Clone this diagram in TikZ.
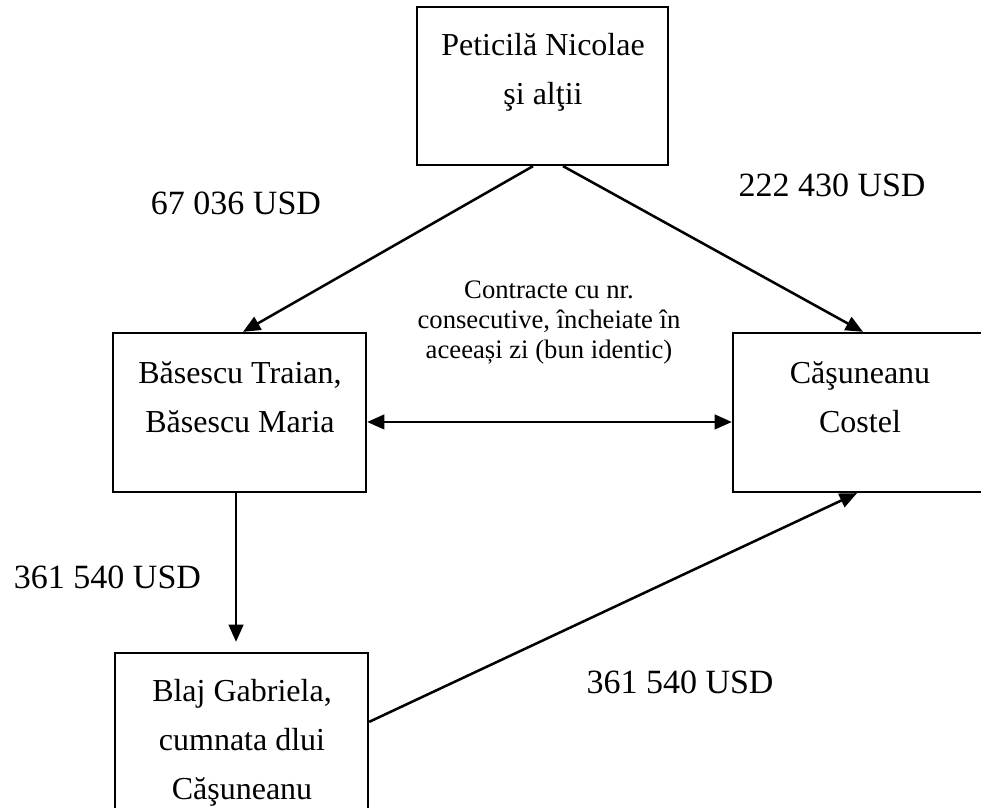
\documentclass[tikz,border=0pt]{standalone}
\usepackage{fontspec}
\setmainfont{Liberation Serif}
\usetikzlibrary{arrows.meta}
\begin{document}
\begin{tikzpicture}[x=0.75pt,y=-0.75pt,
  box/.style={draw, line width=1.7pt, inner sep=0pt},
  boxtext/.style={align=center, font=\fontsize{24pt}{36.75pt}\selectfont, inner sep=0pt},
  lbl/.style={font=\fontsize{25.5pt}{30pt}\selectfont, inner sep=0pt},
  note/.style={align=center, font=\fontsize{20pt}{22.5pt}\selectfont, inner sep=0pt},
  conn/.style={line width=1.9pt, -{Triangle[length=13pt,width=11pt]}},
  dconn/.style={line width=1.9pt, {Triangle[length=13pt,width=11pt]}-{Triangle[length=13pt,width=11pt]}}]
\useasboundingbox (0,0) rectangle (981,807);
% boxes
\node[box, minimum width=188.25pt, minimum height=118.5pt] (top) at (542.5,86) {};
\node[box, minimum width=189.75pt, minimum height=119.25pt] (left) at (239.5,412.5) {};
\node[box, minimum width=190.5pt, minimum height=119.25pt] (right) at (860,412.5) {};
\node[box, minimum width=189.75pt, minimum height=132.75pt] (bot) at (241.5,741.5) {};
% box texts
\node[boxtext] (toptext) at (543,72) {Peticilă Nicolae\\şi alţii};
\node[boxtext] (lefttext) at (240,397.5) {Băsescu Traian,\\Băsescu Maria};
\node[boxtext] (righttext) at (860,397.5) {Căşuneanu\\Costel};
\node[boxtext] (bottext) at (242,743) {Blaj Gabriela,\\cumnata dlui\\Căşuneanu};
% labels
\node[lbl] (l1) at (236,203) {67 036 USD};
\node[lbl] (l2) at (832,185) {222 430 USD};
\node[lbl] (l3) at (107.5,577) {361 540 USD};
\node[lbl] (l4) at (680,682) {361 540 USD};
\node[note] (contract) at (549,323) {Contracte cu nr.\\consecutive, încheiate în\\aceeași zi (bun identic)};
% connectors
\draw[conn] ([xshift=-7.1pt]top.south) -- ([xshift=2.6pt]left.north);
\draw[conn] ([xshift=15.4pt]top.south) -- ([xshift=2.25pt]right.north);
\draw[dconn] ([yshift=-7.1pt]left.east) -- ([yshift=-7.1pt]right.west);
\draw[conn, shorten >=7.5pt] ([xshift=-2.6pt]left.south) -- ([xshift=-2.6pt]left.south |- bot.north);
\draw[conn] ([yshift=-52.5pt]bot.north east) -- ([xshift=-2.25pt]right.south);
\end{tikzpicture}
\end{document}
